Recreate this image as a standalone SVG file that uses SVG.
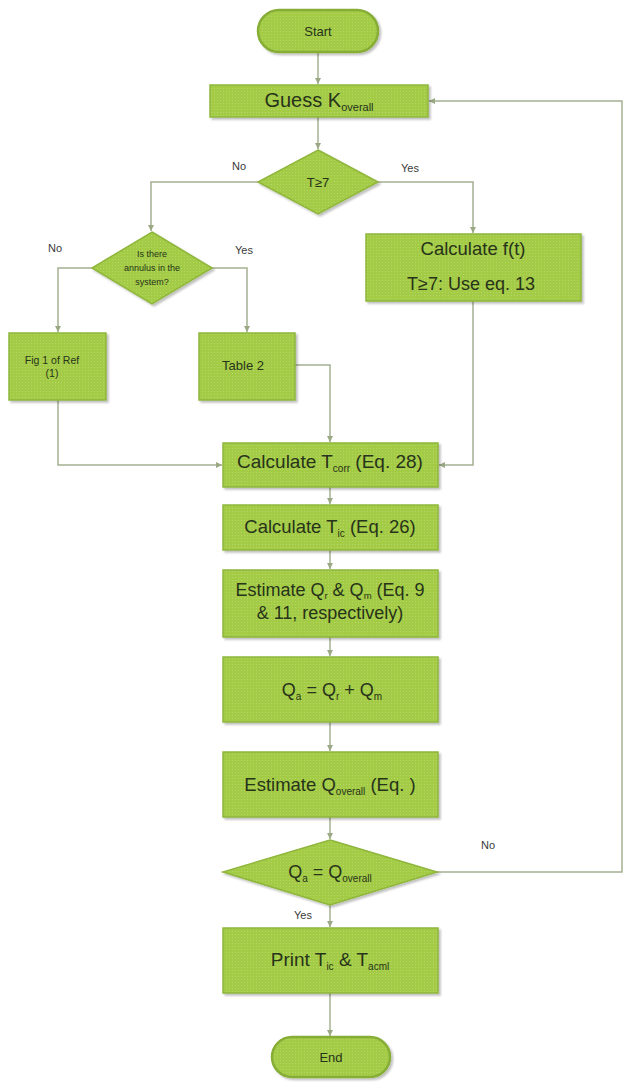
<svg xmlns="http://www.w3.org/2000/svg" width="624" height="1082" viewBox="0 0 624 1082">
<defs>
<pattern id="tex" width="3" height="3" patternUnits="userSpaceOnUse">
<rect width="3" height="3" fill="#a3cb45"/>
<circle cx="1.5" cy="1.5" r="0.6" fill="#b8d968"/>
</pattern>
<filter id="sh" x="-10%" y="-10%" width="125%" height="130%">
<feDropShadow dx="2" dy="2" stdDeviation="1.2" flood-color="#000" flood-opacity="0.25"/>
</filter>
<marker id="ar" markerWidth="7" markerHeight="7" refX="6" refY="3.5" orient="auto" markerUnits="userSpaceOnUse">
<path d="M0,0.5 L6,3.5 L0,6.5 z" fill="#9aa884"/>
</marker>
</defs>
<style>
.n{fill:url(#tex);stroke:#8fb63c;stroke-width:1.5;filter:url(#sh)}
.p{fill:url(#tex);stroke:#86ad35;stroke-width:2.5;filter:url(#sh)}
.c{fill:none;stroke:#a4b090;stroke-width:1.5}
.t{font-family:"Liberation Sans",Arial,sans-serif;fill:#27331a;text-anchor:middle}
.l{font-family:"Liberation Sans",Arial,sans-serif;fill:#3a3a3a;font-size:11px;text-anchor:middle}
</style>
<rect width="624" height="1082" fill="#fff"/>
<g id="connectors">
<path class="c" d="M318,52 V84" marker-end="url(#ar)"/>
<path class="c" d="M318,117 V149" marker-end="url(#ar)"/>
<path class="c" d="M258,182 H151 V231" marker-end="url(#ar)"/>
<path class="c" d="M378,182 H473 V233" marker-end="url(#ar)"/>
<path class="c" d="M92,268 H58 V332" marker-end="url(#ar)"/>
<path class="c" d="M212,268 H247 V332" marker-end="url(#ar)"/>
<path class="c" d="M58,400 V465 H222" marker-end="url(#ar)"/>
<path class="c" d="M295,365 H330 V442" marker-end="url(#ar)"/>
<path class="c" d="M473,301 V465 H439" marker-end="url(#ar)"/>
<path class="c" d="M330,487 V504" marker-end="url(#ar)"/>
<path class="c" d="M330,550 V569" marker-end="url(#ar)"/>
<path class="c" d="M330,637 V656" marker-end="url(#ar)"/>
<path class="c" d="M330,722 V751" marker-end="url(#ar)"/>
<path class="c" d="M330,817 V839" marker-end="url(#ar)"/>
<path class="c" d="M330,905 V927" marker-end="url(#ar)"/>
<path class="c" d="M330,993 V1036" marker-end="url(#ar)"/>
<path class="c" d="M437,872 H622 V101 H429" marker-end="url(#ar)"/>
<text class="l" x="239" y="170">No</text>
<text class="l" x="410" y="172">Yes</text>
<text class="l" x="55" y="252">No</text>
<text class="l" x="244" y="254">Yes</text>
<text class="l" x="488" y="849">No</text>
<text class="l" x="303" y="919">Yes</text>
</g>
<g id="start">
<rect class="p" x="258" y="10" width="120" height="42" rx="21"/>
<text class="t" x="318" y="35.5" font-size="13">Start</text>
</g>
<g id="guess">
<rect class="n" x="210" y="85" width="218" height="32"/>
<text class="t" x="319" y="107" font-size="20">Guess K<tspan font-size="11" dy="4">overall</tspan></text>
</g>
<g id="dec1">
<polygon class="n" points="318,150 378,182 318,214 258,182"/>
<text class="t" x="318" y="186.5" font-size="13">T≥7</text>
</g>
<g id="dec2">
<polygon class="n" points="152,232 212,268 152,304 92,268"/>
<text class="t" x="152" y="257" font-size="9">Is there</text>
<text class="t" x="152" y="271" font-size="9">annulus in the</text>
<text class="t" x="152" y="285" font-size="9">system?</text>
</g>
<g id="fig1">
<rect class="n" x="9" y="333" width="97" height="67"/>
<text class="t" x="52" y="364" font-size="10.5">Fig 1 of Ref</text>
<text class="t" x="52" y="377" font-size="10.5">(1)</text>
</g>
<g id="table2">
<rect class="n" x="199" y="333" width="96" height="67"/>
<text class="t" x="243" y="370" font-size="13">Table 2</text>
</g>
<g id="ft">
<rect class="n" x="366" y="234" width="215" height="67"/>
<text class="t" x="473" y="255" font-size="18.5">Calculate f(t)</text>
<text class="t" x="471" y="290" font-size="18">T≥7: Use eq. 13</text>
</g>
<g id="tcorr">
<rect class="n" x="223" y="443" width="215" height="44"/>
<text class="t" x="330" y="468" font-size="19">Calculate T<tspan font-size="10" dy="4">corr</tspan><tspan dy="-4"> (Eq. 28)</tspan></text>
</g>
<g id="tic">
<rect class="n" x="223" y="505" width="215" height="45"/>
<text class="t" x="330" y="533" font-size="18.5">Calculate T<tspan font-size="10" dy="4">ic</tspan><tspan dy="-4"> (Eq. 26)</tspan></text>
</g>
<g id="estq">
<rect class="n" x="223" y="570" width="215" height="67"/>
<text class="t" x="330" y="596" font-size="18">Estimate Q<tspan font-size="9.5" dy="3">r</tspan><tspan dy="-3"> &amp; Q</tspan><tspan font-size="9.5" dy="3">m</tspan><tspan dy="-3"> (Eq. 9</tspan></text>
<text class="t" x="330" y="619" font-size="18">&amp; 11, respectively)</text>
</g>
<g id="qa">
<rect class="n" x="223" y="657" width="215" height="65"/>
<text class="t" x="332" y="696" font-size="18">Q<tspan font-size="10" dy="4">a</tspan><tspan dy="-4"> = Q</tspan><tspan font-size="10" dy="4">r</tspan><tspan dy="-4"> + Q</tspan><tspan font-size="10" dy="4">m</tspan></text>
</g>
<g id="estqo">
<rect class="n" x="223" y="752" width="215" height="65"/>
<text class="t" x="330" y="791" font-size="18.5">Estimate Q<tspan font-size="10" dy="4">overall</tspan><tspan dy="-4"> (Eq. )</tspan></text>
</g>
<g id="dec3">
<polygon class="n" points="330,840 437,872 330,905 223,872"/>
<text class="t" x="330" y="878" font-size="18">Q<tspan font-size="10" dy="4">a</tspan><tspan dy="-4"> = Q</tspan><tspan font-size="10" dy="4">overall</tspan></text>
</g>
<g id="print">
<rect class="n" x="223" y="928" width="215" height="65"/>
<text class="t" x="330" y="966" font-size="19">Print T<tspan font-size="10" dy="4">ic</tspan><tspan dy="-4"> &amp; T</tspan><tspan font-size="10" dy="4">acml</tspan></text>
</g>
<g id="end">
<rect class="p" x="272" y="1037" width="118" height="40" rx="20"/>
<text class="t" x="331" y="1061.5" font-size="13">End</text>
</g>
</svg>
